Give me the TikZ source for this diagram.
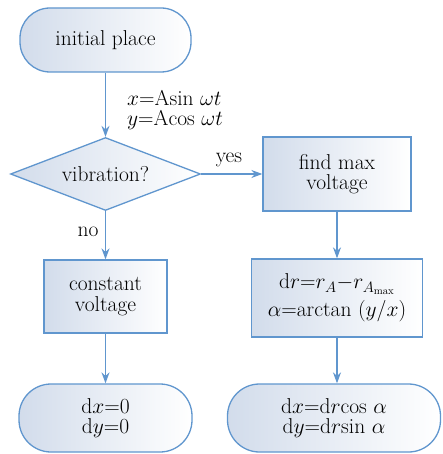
\RequirePackage{fix-cm}
\documentclass[tikz,border=0pt]{standalone}
\usepackage{fontspec}
\usetikzlibrary{shapes.geometric,arrows.meta}
\definecolor{edge}{RGB}{96,150,206}
\definecolor{shadeL}{RGB}{210,220,235}
\begin{document}
\begin{tikzpicture}[x=1pt,y=1pt,
  every node/.style={font=\fontsize{21.5}{20.5}\selectfont},
  fillbox/.style={draw=edge,line width=1.3pt,left color=shadeL,right color=white,align=center,inner sep=0pt},
  boxnode/.style={fillbox,rectangle},
  pill/.style={fillbox,rectangle,rounded corners=30pt},
  decision/.style={fillbox,diamond,aspect=2.6},
  arr/.style={draw=edge,line width=1.3pt,-{Stealth[length=11pt,width=8pt]}},
  lbl/.style={inner sep=0pt}]
\useasboundingbox (0,0) rectangle (443,-454);
\node[pill,minimum width=171pt,minimum height=64pt] (start) at (105.5,-40) {initial place};
\node[decision,minimum width=190pt,minimum height=73pt] (vib) at (105.5,-174) {vibration?};
\node[boxnode,minimum width=148pt,minimum height=74pt] (find) at (337,-174) {find max\\voltage};
\node[boxnode,minimum width=171pt,minimum height=78pt] (dr) at (337,-298) {$\mathrm{d}r{=}r_{A}{-}r_{A_{\max}}$\\[5pt]$\alpha{=}\mathrm{arctan}\ (y/x)$};
\node[boxnode,minimum width=123pt,minimum height=73pt] (const) at (105.5,-296.5) {constant\\voltage};
\node[pill,minimum width=173pt,minimum height=68pt,rounded corners=32pt] (zero) at (105.5,-418) {d$x{=}0$\\d$y{=}0$};
\node[pill,minimum width=213pt,minimum height=68pt,rounded corners=32pt] (dxy) at (334,-418) {d$x{=}$d$r$cos $\alpha$\\d$y{=}$d$r$sin $\alpha$};
\node[lbl,anchor=west,align=left] (eq) at (127,-110) {$x{=}\mathrm{A}\mathrm{sin}\ \omega t$\\$y{=}\mathrm{A}\mathrm{cos}\ \omega t$};
\node[lbl] (yes) at (229,-160) {yes};
\node[lbl] (no) at (88,-232) {no};
\draw[arr] (start) -- (vib);
\draw[arr] (vib) -- (find);
\draw[arr] (vib) -- (const);
\draw[arr] (find) -- (dr);
\draw[arr] (const) -- (zero);
\draw[arr] (dr) -- (dr|-dxy.north);
\end{tikzpicture}
\end{document}
